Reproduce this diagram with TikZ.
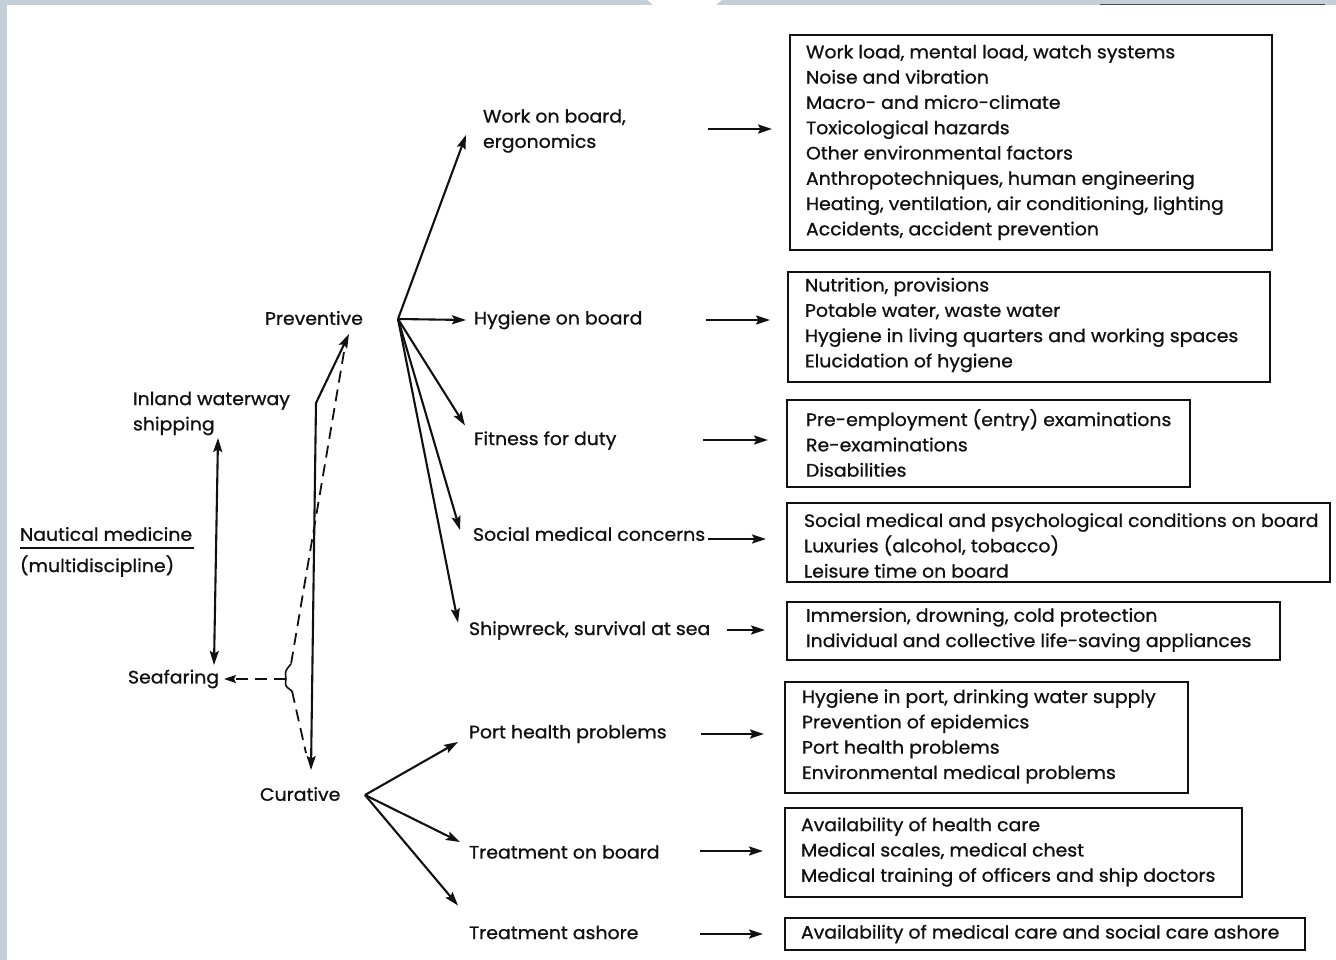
\documentclass[tikz,border=0pt]{standalone}
\usepackage{fontspec}
\setmainfont{Poppins}[FakeStretch=1.05, FakeBold=0.9]
\usetikzlibrary{arrows.meta,calc}
\definecolor{scan}{HTML}{C5CFD7}
\definecolor{ink}{HTML}{111111}
\newcommand{\lblsize}{\fontsize{18}{25.3}\selectfont}
\begin{document}
\begin{tikzpicture}[x=1pt,y=-1pt,
  every node/.style={inner sep=0pt, outer sep=0pt},
  lbl/.style={anchor=west, font=\lblsize, align=left, text=ink},
  itembox/.style={draw=ink, line width=2.1pt},
  arr/.style={draw=ink, line width=2.1pt, -{Stealth[length=14pt,width=9pt,inset=2.5pt]}},
  dbl/.style={draw=ink, line width=2.1pt, {Stealth[length=14pt,width=9pt,inset=2.5pt]}-{Stealth[length=14pt,width=9pt,inset=2.5pt]}},
  dsh/.style={draw=ink, line width=1.8pt, dash pattern=on 12pt off 7pt},
]
\useasboundingbox (0,0) rectangle (1336,960);
\fill[white] (0,0) rectangle (1336,960);
\fill[scan] (0,0) rectangle (7,960);
\fill[scan] (0,0) -- (647,0) -- (653,5) -- (0,5) -- cycle;
\fill[scan] (722,0) -- (1336,0) -- (1336,5) -- (716,5) -- cycle;
\draw[black!70, line width=1.2pt] (1100,4.5) -- (1325,4.5);

% boxes
\node[itembox, minimum width=482pt, minimum height=215pt] (b1) at (1031,142.5) {};
\node[itembox, minimum width=482pt, minimum height=110pt] (b2) at (1029,327) {};
\node[itembox, minimum width=403pt, minimum height=87pt] (b3) at (988.5,443.5) {};
\node[itembox, minimum width=543pt, minimum height=79pt] (b4) at (1058.5,542.5) {};
\node[itembox, minimum width=493pt, minimum height=58pt] (b5) at (1033.5,631) {};
\node[itembox, minimum width=403pt, minimum height=111pt] (b6) at (986.5,737.5) {};
\node[itembox, minimum width=457pt, minimum height=89pt] (b7) at (1013.5,852.5) {};
\node[itembox, minimum width=520pt, minimum height=32pt] (b8) at (1045,934) {};

\node[lbl] (t1) at (806,142.5) {Work load, mental load, watch systems\\Noise and vibration\\Macro- and micro-climate\\Toxicological hazards\\Other environmental factors\\Anthropotechniques, human engineering\\Heating, ventilation, air conditioning, lighting\\Accidents, accident prevention};
\node[lbl] (t2) at (805,325) {Nutrition, provisions\\Potable water, waste water\\Hygiene in living quarters and working spaces\\Elucidation of hygiene};
\node[lbl] (t3) at (806,443) {Pre-employment (entry) examinations\\Re-examinations\\Disabilities};
\node[lbl] (t4) at (804,545.5) {Social medical and psychological conditions on board\\Luxuries (alcohol, tobacco)\\Leisure time on board};
\node[lbl] (t5) at (806,630) {Immersion, drowning, cold protection\\Individual and collective life-saving appliances};
\node[lbl] (t6) at (802,736.5) {Hygiene in port, drinking water supply\\Prevention of epidemics\\Port health problems\\Environmental medical problems};
\node[lbl] (t7) at (801,852) {Availability of health care\\Medical scales, medical chest\\Medical training of officers and ship doctors};
\node[lbl] (t8) at (801,934) {Availability of medical care and social care ashore};

% middle labels
\node[lbl] (l1) at (483,131) {Work on board,\\ergonomics};
\node[lbl] (l2) at (474,320) {Hygiene on board};
\node[lbl] (l3) at (474,440.5) {Fitness for duty};
\node[lbl] (l4) at (473,534) {Social medical concerns};
\node[lbl] (l5) at (469,630.5) {Shipwreck, survival at sea};
\node[lbl] (l6) at (469,734) {Port health problems};
\node[lbl] (l7) at (469,852) {Treatment on board};
\node[lbl] (l8) at (469,932.5) {Treatment ashore};

% left labels
\node[lbl] (prev) at (265,318) {Preventive};
\node[lbl] (cur) at (260,794) {Curative};
\node[lbl] (iw) at (133,413.5) {Inland waterway\\shipping};
\node[lbl] (nm) at (20,534) {Nautical medicine};
\node[lbl] (md) at (20,566) {(multidiscipline)};
\node[lbl] (sea) at (128,679) {Seafaring};
\draw[ink, line width=1.7pt] ($(nm.south west)+(0,7)$) -- ($(nm.south east)+(2,7)$);

% fans
\coordinate (pf) at (398,319);
\draw[arr] (pf) -- ($(l1.west)+(-17,4)$);
\draw[arr] (pf) -- ($(l2.west)+(-8,0)$);
\draw[arr] (pf) -- ($(l3.west)+(-9,-15)$);
\draw[arr] (pf) -- ($(l4.west)+(-13,-4)$);
\draw[arr] (pf) -- ($(l5.west)+(-11,-8)$);
\coordinate (cf) at (365,795);
\draw[arr] (cf) -- ($(l6.west)+(-11,8)$);
\draw[arr] (cf) -- ($(l7.west)+(-9,-10)$);
\draw[arr] (cf) -- ($(l8.west)+(-11,-27)$);

% arrows to boxes
\coordinate (r1) at (708,129);
\coordinate (r2) at (706,320);
\coordinate (r3) at (703,440);
\coordinate (r4) at (708,539);
\coordinate (r5) at (727,630);
\coordinate (r6) at (701,734);
\coordinate (r7) at (700,851);
\coordinate (r8) at (700,934);
\draw[arr, shorten >=18pt] (r1) -- (r1 -| b1.west);
\draw[arr, shorten >=18pt] (r2) -- (r2 -| b2.west);
\draw[arr, shorten >=19pt] (r3) -- (r3 -| b3.west);
\draw[arr, shorten >=21pt] (r4) -- (r4 -| b4.west);
\draw[arr, shorten >=22pt] (r5) -- (r5 -| b5.west);
\draw[arr, shorten >=21pt] (r6) -- (r6 -| b6.west);
\draw[arr, shorten >=22pt] (r7) -- (r7 -| b7.west);
\draw[arr, shorten >=22pt] (r8) -- (r8 -| b8.west);

% left structure
\coordinate (itop) at (218,438);
\coordinate (ibot) at (214,665);
\draw[dbl] (itop) -- (ibot);
\coordinate (ptip) at (349,334);
\coordinate (bend) at (316,403);
\coordinate (ctip) at (311,770);
\draw[dbl] (ptip) -- (bend) -- (ctip);
\coordinate (dtop) at (344,352);
\coordinate (brt) at (291,664);
\coordinate (brm) at (286,679);
\coordinate (brb) at (292,691);
\coordinate (dbot) at (306,753);
\coordinate (seatip) at (224,679);
\draw[dsh] (dtop) -- (brt);
\draw[ink, line width=1.6pt] (brt) .. controls (285,671) .. (brm) .. controls (285,686) .. (brb);
\draw[dsh] (brb) -- (dbot);
\draw[dsh, -{Stealth[length=12pt,width=8pt,inset=2pt]}] (brm) -- (seatip);
\end{tikzpicture}
\end{document}
